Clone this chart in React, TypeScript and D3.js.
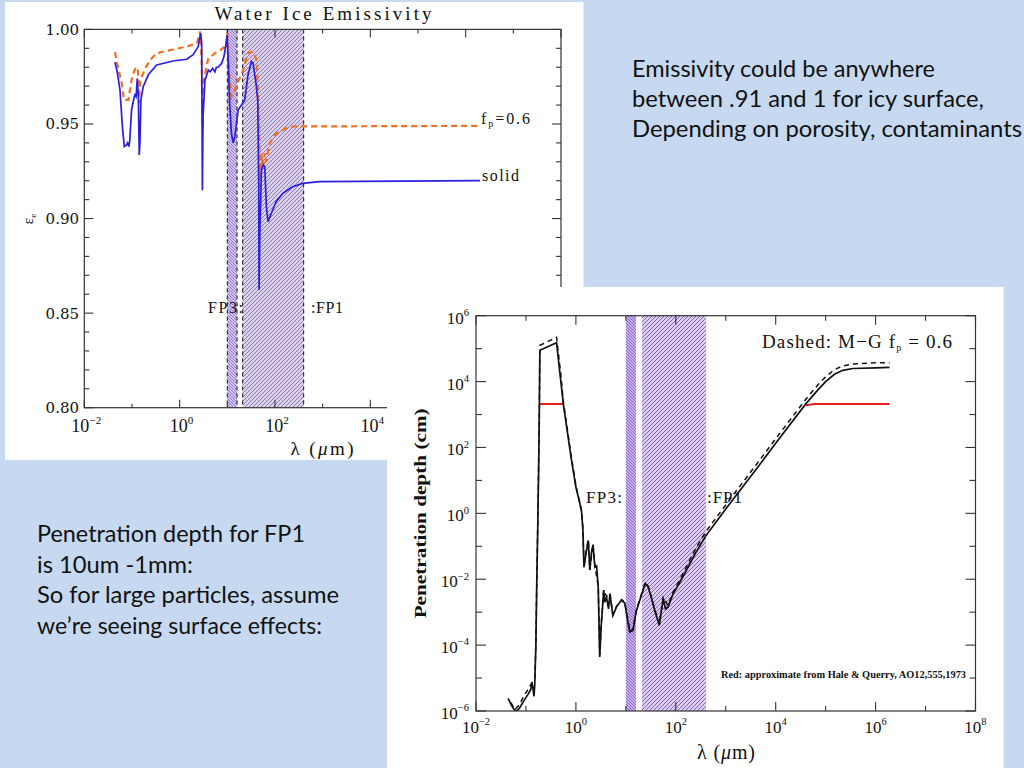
import React from "react";
import * as d3 from "d3";

// ---------------- Slide text ----------------
const noteTopRight = [
  "Emissivity could be anywhere",
  "between .91 and 1 for icy surface,",
  "Depending on porosity, contaminants",
];
const noteTopRightWidths = [303, 352, 390];
const noteBottomLeft = [
  "Penetration depth for FP1",
  "is 10um -1mm:",
  "So for large particles, assume",
  "we\u2019re seeing surface effects:",
];
const noteBottomLeftWidths = [268, 156, 302, 285];

// ---------------- Shared axis data ----------------
const bandEdgesUm: [number, number][] = [
  [10, 16], // FP3
  [21, 400], // FP1
];
const decadeExponents = [-2, -1, 0, 1, 2, 3, 4, 5, 6, 7, 8];
const xLabelExponents = [-2, 0, 2, 4, 6, 8];

// ---------------- Chart 1: emissivity ----------------
const emisTicks = [
  0.8, 0.81, 0.82, 0.83, 0.84, 0.85, 0.86, 0.87, 0.88, 0.89, 0.9, 0.91, 0.92,
  0.93, 0.94, 0.95, 0.96, 0.97, 0.98, 0.99, 1.0,
];
const emisLabelTicks = [0.8, 0.85, 0.9, 0.95, 1.0];

const solidLambda = [
  0.044, 0.049, 0.056, 0.063, 0.069, 0.077, 0.081, 0.086, 0.09, 0.098, 0.11,
  0.115, 0.122, 0.129, 0.136, 0.142, 0.147, 0.154, 0.172, 0.22, 0.33, 0.73, 1.4,
  1.9, 2.45, 2.75, 2.9, 3.0, 3.1, 3.4, 4.0, 4.4, 4.9, 5.5, 5.9, 6.4, 7.6, 8.5,
  9.2, 9.9, 10.5, 11.2, 12.2, 13.3, 14.4, 16.9, 19.8, 23.2, 27.2, 32, 34.7, 40,
  43.5, 45.6, 46.3, 48.4, 52, 56.5, 61, 66, 71.5, 84, 106, 146, 235, 380, 860,
  2.0e6,
];
const solidEps = [
  0.9826, 0.9776, 0.968, 0.9486, 0.938, 0.9389, 0.94, 0.938, 0.9415, 0.9574,
  0.9636, 0.9653, 0.9644, 0.974, 0.9644, 0.9336, 0.94, 0.9627, 0.9697, 0.976,
  0.9812, 0.9833, 0.9842, 0.9865, 0.9909, 0.998, 0.993, 0.915, 0.954, 0.973,
  0.9785, 0.9776, 0.9794, 0.9776, 0.98, 0.98, 0.982, 0.9856, 0.9909, 0.997,
  0.982, 0.961, 0.945, 0.94, 0.9433, 0.9574, 0.96, 0.9627, 0.976, 0.983, 0.982,
  0.9715, 0.9627, 0.9168, 0.8622, 0.8957, 0.9257, 0.9283, 0.9274, 0.9063,
  0.8983, 0.9028, 0.909, 0.9133, 0.9168, 0.9186, 0.9195, 0.92,
];

const porousLambda = [
  0.044, 0.049, 0.061, 0.068, 0.084, 0.098, 0.11, 0.122, 0.133, 0.14, 0.15,
  0.19, 0.24, 0.33, 0.62, 1.4, 2.3, 2.7, 2.9, 3.0, 3.2, 4.0, 5.5, 7.6, 9.7, 10,
  10.7, 12.2, 14.4, 16.9, 21.5, 27, 34.7, 41, 44.5, 46.6, 48, 52, 56, 61, 66,
  72, 78, 106, 200, 380, 2.0e6,
];
const porousEps = [
  0.988, 0.982, 0.9715, 0.9627, 0.9627, 0.9733, 0.9776, 0.98, 0.979, 0.961,
  0.9733, 0.9794, 0.9838, 0.9874, 0.989, 0.9909, 0.9926, 0.9988, 0.9838,
  0.9486, 0.9733, 0.9847, 0.9874, 0.9895, 0.9918, 0.998, 0.98, 0.9644, 0.968,
  0.9724, 0.9785, 0.9874, 0.9882, 0.9838, 0.9627, 0.945, 0.9168, 0.9345, 0.927,
  0.9345, 0.93, 0.936, 0.94, 0.945, 0.9486, 0.9487, 0.949,
];

// ---------------- Chart 2: penetration depth ----------------
const depthExponents = [-6, -5, -4, -3, -2, -1, 0, 1, 2, 3, 4, 5, 6];
const depthLabelExponents = [-6, -4, -2, 0, 2, 4, 6];

const depthLambda = [
  0.044, 0.05, 0.058, 0.066, 0.075, 0.09, 0.11, 0.125, 0.132, 0.138, 0.145,
  0.15, 0.158, 0.165, 0.172, 0.18, 0.185, 0.19, 0.41, 0.56, 0.8, 1.0, 1.2, 1.3,
  1.38, 1.45, 1.6, 1.77, 1.9, 2.05, 2.2, 2.4, 2.6, 2.8, 3.0, 3.2, 3.6, 3.8, 4.1,
  4.5, 4.8, 5.5, 6.5, 7.2, 8.2, 9.5, 11, 12, 13.9, 16, 19, 24.5, 28, 33, 38,
  46.7, 56, 62, 70, 88, 120, 164, 250, 400, 1000, 4000, 10000, 40000, 70000,
  1e5, 1.5e5, 2.2e5, 3.5e5, 1e6, 1.9e6,
];
const depthSolidCm = [
  2.4e-6, 1.6e-6, 1.1e-6, 1.0e-6, 1.26e-6, 2.0e-6, 3.2e-6, 4.5e-6, 7.1e-6,
  5.0e-6, 2.8e-6, 6.3e-6, 1e-4, 1e-2, 0.32, 32, 1000, 8.9e4, 1.5e5, 2.1e3, 50,
  6.3, 2.0, 1.1, 0.32, 0.023, 0.063, 0.15, 0.019, 0.063, 0.11, 0.023, 0.025,
  0.0058, 4.4e-5, 3.5e-4, 4.6e-3, 2.0e-3, 2.9e-3, 1.26e-3, 3.6e-3, 7.9e-4,
  1.45e-3, 1.8e-3, 2.3e-3, 1.9e-3, 5.0e-4, 2.5e-4, 2.8e-4, 1.0e-3, 2.3e-3,
  7.4e-3, 5.8e-3, 2.5e-3, 1.1e-3, 4.0e-4, 2.6e-3, 1.26e-3, 1.45e-3, 3.6e-3,
  7.9e-3, 0.019, 0.063, 0.21, 1.35, 21, 135, 2100, 5600, 1.0e4, 1.66e4, 2.2e4,
  2.5e4, 2.6e4, 2.7e4,
];

const dashedLambda = [
  0.05, 0.06, 0.075, 0.09, 0.11, 0.13, 0.15, 0.158, 0.165, 0.172, 0.18, 0.185,
  0.19, 0.41, 0.5, 0.56, 0.8, 1.0, 1.3, 1.38, 1.45, 1.6, 1.77, 1.9, 2.2, 2.4,
  2.8, 3.0, 3.2, 3.6, 4.1, 4.8, 5.5, 6.5, 8.2, 9.5, 12, 13.9, 16, 19, 24.5, 28,
  38, 46.7, 56, 70, 88, 120, 164, 250, 400, 1000, 4000, 10000, 40000, 70000,
  1e5, 1.5e5, 2.2e5, 3.5e5, 1e6, 1.9e6,
];
const depthDashedCm = [
  1.8e-6, 1.1e-6, 1.6e-6, 2.8e-6, 4.5e-6, 7e-6, 1.0e-5, 1e-4, 1e-2, 0.4, 40,
  1300, 1.26e5, 2.2e5, 1.6e4, 2.5e3, 60, 7, 1.2, 0.35, 0.025, 0.07, 0.16, 0.02,
  0.12, 0.025, 0.006, 5e-5, 3.8e-4, 4.8e-3, 3.0e-3, 3.8e-3, 8.5e-4, 1.5e-3,
  2.4e-3, 2.0e-3, 2.7e-4, 3.0e-4, 1.1e-3, 2.5e-3, 7.8e-3, 6.2e-3, 1.2e-3,
  4.4e-4, 2.8e-3, 1.6e-3, 4.0e-3, 9.5e-3, 0.024, 0.085, 0.28, 1.8, 29, 185,
  2900, 8000, 1.4e4, 2.3e4, 3.0e4, 3.4e4, 3.7e4, 3.7e4,
];

const redLeftLambda = [0.19, 0.56];
const redLeftCm = [2100, 2100];
const redRightLambda = [4.0e4, 6.0e4, 1.9e6];
const redRightCm = [1900, 2100, 2100];

// ---------------- Geometry ----------------
const P1 = { left: 84.3, right: 561, top: 29.4, bottom: 407.7 };
const P2 = { left: 476, right: 975.5, top: 315.7, bottom: 711 };

const x1 = d3.scaleLog().domain([1e-2, 1e8]).range([P1.left, P1.right]);
const y1 = d3.scaleLinear().domain([0.8, 1.0]).range([P1.bottom, P1.top]);
const x2 = d3.scaleLog().domain([1e-2, 1e8]).range([P2.left, P2.right]);
const y2 = d3.scaleLog().domain([1e-6, 1e6]).range([P2.bottom, P2.top]);

const zip = (a: number[], b: number[]) => a.map((v, i) => [v, b[i]] as [number, number]);

const line1 = d3
  .line<[number, number]>()
  .x((d) => x1(d[0]))
  .y((d) => y1(d[1]));
const line2 = d3
  .line<[number, number]>()
  .x((d) => x2(d[0]))
  .y((d) => y2(d[1]));

const SERIF = "'Liberation Serif', 'DejaVu Serif', serif";
const DSERIF = "'DejaVu Serif', 'Liberation Serif', serif";
const SANS = "Lato, 'Open Sans', 'Noto Sans', sans-serif";

function Pow10({ x, y, e, size, anchor }: { x: number; y: number; e: number; size: number; anchor: string }) {
  const txt = e < 0 ? "\u2212" + Math.abs(e) : String(e);
  return (
    <text x={x} y={y} fontFamily={SERIF} fontSize={size} textAnchor={anchor as any} fill="#111">
      10
      <tspan dy={-size * 0.45} fontSize={size * 0.62}>
        {txt}
      </tspan>
    </text>
  );
}

export default function App() {
  const pow = (e: number) => Math.pow(10, e);
  return (
    <svg
      width={1024}
      height={768}
      viewBox="0 0 1024 768"
      style={{ position: "absolute", left: 0, top: 0, display: "block" }}
    >
      <defs>
        <pattern id="c1b1" patternUnits="userSpaceOnUse" width={3} height={3}>
          <rect width={3} height={3} fill="#d2c2f0" />
          <path d="M0,0 L3,3 M-1,2 L1,4 M2,-1 L4,1" stroke="#8a6cc6" strokeWidth={0.85} />
        </pattern>
        <pattern id="c1b2" patternUnits="userSpaceOnUse" width={4} height={4}>
          <rect width={4} height={4} fill="#ddd2ee" />
          <path d="M0,4 L4,0 M-1,1 L1,-1 M3,5 L5,3" stroke="#7e6f9e" strokeWidth={0.9} />
        </pattern>
        <pattern id="c2b1" patternUnits="userSpaceOnUse" width={3} height={3}>
          <rect width={3} height={3} fill="#c8aeee" />
          <path d="M0,0 L3,3 M-1,2 L1,4 M2,-1 L4,1" stroke="#875ec6" strokeWidth={0.9} />
        </pattern>
        <pattern id="c2b2" patternUnits="userSpaceOnUse" width={4} height={4}>
          <rect width={4} height={4} fill="#ddcdf0" />
          <path d="M0,4 L4,0 M-1,1 L1,-1 M3,5 L5,3" stroke="#8060b4" strokeWidth={0.95} />
        </pattern>
        <clipPath id="clip1">
          <rect x={P1.left} y={P1.top} width={P1.right - P1.left} height={P1.bottom - P1.top} />
        </clipPath>
        <clipPath id="clip2">
          <rect x={P2.left} y={P2.top} width={P2.right - P2.left} height={P2.bottom - P2.top} />
        </clipPath>
      </defs>

      {/* slide background */}
      <rect x={0} y={0} width={1024} height={768} fill="#c6d9f0" />

      {/* slide notes */}
      {noteTopRight.map((t, i) => (
        <text
          key={"tr" + i}
          x={632}
          y={77 + i * 30}
          fontFamily={SANS}
          fontSize={23}
          fill="#111"
          textLength={noteTopRightWidths[i]}
          lengthAdjust="spacingAndGlyphs"
        >
          {t}
        </text>
      ))}
      {noteBottomLeft.map((t, i) => (
        <text
          key={"bl" + i}
          x={37}
          y={542 + i * 30.5}
          fontFamily={SANS}
          fontSize={23}
          fill="#111"
          textLength={noteBottomLeftWidths[i]}
          lengthAdjust="spacingAndGlyphs"
        >
          {t}
        </text>
      ))}

      {/* ================= Chart 1 ================= */}
      <rect x={5} y={2} width={578.5} height={458} fill="#ffffff" />
      <text x={323} y={20} fontFamily={SERIF} fontSize={19} textAnchor="middle" textLength={217} lengthAdjust="spacing" fill="#111">
        Water Ice Emissivity
      </text>

      {bandEdgesUm.map(([a, b], i) => (
        <rect
          key={"b1" + i}
          x={x1(a)}
          y={P1.top}
          width={x1(b) - x1(a)}
          height={P1.bottom - P1.top}
          fill={i === 0 ? "url(#c1b1)" : "url(#c1b2)"}
        />
      ))}
      {bandEdgesUm.flat().map((v, i) => (
        <line
          key={"bd" + i}
          x1={x1(v)}
          x2={x1(v)}
          y1={P1.top}
          y2={P1.bottom}
          stroke="#111"
          strokeWidth={1}
          strokeDasharray="4,3"
        />
      ))}

      <text x={208} y={313} fontFamily={SERIF} fontSize={16} fill="#111" textLength={35} lengthAdjust="spacing">
        FP3:
      </text>
      <text x={311} y={313} fontFamily={SERIF} fontSize={16} fill="#111" textLength={32} lengthAdjust="spacing">
        :FP1
      </text>

      <g clipPath="url(#clip1)">
        <path
          d={line1(zip(porousLambda, porousEps)) || ""}
          fill="none"
          stroke="#f07020"
          strokeWidth={2.2}
          strokeDasharray="6,4"
        />
        <path d={line1(zip(solidLambda, solidEps)) || ""} fill="none" stroke="#2a1fe0" strokeWidth={1.7} />
      </g>

      <text x={481} y={124} fontFamily={SERIF} fontSize={16} fill="#111" textLength={49} lengthAdjust="spacing">
        f<tspan dy={3} fontSize={10}>p</tspan>
        <tspan dy={-3}>=0.6</tspan>
      </text>
      <text x={482} y={181} fontFamily={SERIF} fontSize={16} fill="#111" textLength={37} lengthAdjust="spacing">
        solid
      </text>

      {/* chart 1 axes */}
      <rect
        x={P1.left}
        y={P1.top}
        width={P1.right - P1.left}
        height={P1.bottom - P1.top}
        fill="none"
        stroke="#333"
        strokeWidth={1.2}
      />
      {decadeExponents.map((e) => {
        const x = x1(pow(e));
        const len = e % 2 === 0 ? 8 : 4;
        return (
          <g key={"x1t" + e} stroke="#333" strokeWidth={1.1}>
            <line x1={x} x2={x} y1={P1.bottom} y2={P1.bottom - len} />
            <line x1={x} x2={x} y1={P1.top} y2={P1.top + len} />
          </g>
        );
      })}
      {emisTicks.map((t) => {
        const y = y1(t);
        const major = emisLabelTicks.some((m) => Math.abs(m - t) < 1e-6);
        const len = major ? 9 : 5;
        return (
          <g key={"y1t" + t} stroke="#333" strokeWidth={1.1}>
            <line x1={P1.left} x2={P1.left + len} y1={y} y2={y} />
            <line x1={P1.right} x2={P1.right - len} y1={y} y2={y} />
          </g>
        );
      })}
      {emisLabelTicks.map((t) => (
        <text
          key={"y1l" + t}
          x={79}
          y={y1(t) + 5.5}
          fontFamily={DSERIF}
          fontSize={15}
          textAnchor="end"
          fill="#111"
        >
          {t.toFixed(2)}
        </text>
      ))}
      {xLabelExponents.map((e) => (
        <Pow10 key={"x1l" + e} x={x1(pow(e)) + 2} y={432} e={e} size={18} anchor="middle" />
      ))}
      <text x={322} y={455} fontFamily={SERIF} fontSize={19} textAnchor="middle" fill="#111" textLength={63} lengthAdjust="spacing">
        {"\u03BB ("}
        <tspan fontStyle="italic">{"\u03BC"}</tspan>
        {"m)"}
      </text>
      <text
        transform="translate(33,219) rotate(-90)"
        fontFamily={SERIF}
        fontSize={15}
        textAnchor="middle"
        fill="#111"
      >
        {"\u03B5"}
        <tspan dy={3} fontSize={9}>
          e
        </tspan>
      </text>

      {/* ================= Chart 2 ================= */}
      <rect x={387} y={287} width={616.5} height={481} fill="#ffffff" />

      {bandEdgesUm.map(([a, b], i) => (
        <rect
          key={"b2" + i}
          x={x2(a)}
          y={P2.top}
          width={x2(b) - x2(a)}
          height={P2.bottom - P2.top}
          fill={i === 0 ? "url(#c2b1)" : "url(#c2b2)"}
        />
      ))}

      <text x={586} y={503} fontFamily={SERIF} fontSize={17} fill="#111" textLength={36} lengthAdjust="spacing">
        FP3:
      </text>
      <text x={707} y={503} fontFamily={SERIF} fontSize={17} fill="#111" textLength={35} lengthAdjust="spacing">
        :FP1
      </text>

      <g clipPath="url(#clip2)">
        <path d={line2(zip(redLeftLambda, redLeftCm)) || ""} fill="none" stroke="#e0201c" strokeWidth={2} />
        <path d={line2(zip(redRightLambda, redRightCm)) || ""} fill="none" stroke="#e0201c" strokeWidth={2} />
        <path
          d={line2(zip(dashedLambda, depthDashedCm)) || ""}
          fill="none"
          stroke="#111"
          strokeWidth={1.5}
          strokeDasharray="5,4"
        />
        <path d={line2(zip(depthLambda, depthSolidCm)) || ""} fill="none" stroke="#111" strokeWidth={1.7} />
      </g>

      <text x={762} y={348} fontFamily={SERIF} fontSize={19} fill="#111" textLength={190} lengthAdjust="spacing">
        {"Dashed: M\u2212G f"}
        <tspan dy={3} fontSize={10}>
          p
        </tspan>
        <tspan dy={-3}>{" = 0.6"}</tspan>
      </text>
      <text
        x={721}
        y={678}
        fontFamily={SERIF}
        fontSize={9.5}
        fontWeight="bold"
        fill="#111"
        textLength={245}
        lengthAdjust="spacingAndGlyphs"
      >
        Red: approximate from Hale &amp; Querry, AO12,555,1973
      </text>

      {/* chart 2 axes */}
      <rect
        x={P2.left}
        y={P2.top}
        width={P2.right - P2.left}
        height={P2.bottom - P2.top}
        fill="none"
        stroke="#333"
        strokeWidth={1.2}
      />
      {decadeExponents.map((e) => {
        const x = x2(pow(e));
        const len = e % 2 === 0 ? 9 : 5;
        return (
          <g key={"x2t" + e} stroke="#333" strokeWidth={1.1}>
            <line x1={x} x2={x} y1={P2.bottom} y2={P2.bottom - len} />
            <line x1={x} x2={x} y1={P2.top} y2={P2.top + len} />
          </g>
        );
      })}
      {depthExponents.map((e) => {
        const y = y2(pow(e));
        const len = e % 2 === 0 ? 10 : 6;
        return (
          <g key={"y2t" + e} stroke="#333" strokeWidth={1.1}>
            <line x1={P2.left} x2={P2.left + len} y1={y} y2={y} />
            <line x1={P2.right} x2={P2.right - len} y1={y} y2={y} />
          </g>
        );
      })}
      {depthLabelExponents.map((e) => (
        <Pow10 key={"y2l" + e} x={469} y={y2(pow(e)) + 8} e={e} size={17} anchor="end" />
      ))}
      {xLabelExponents.map((e) => (
        <Pow10 key={"x2l" + e} x={x2(pow(e))} y={733} e={e} size={17} anchor="middle" />
      ))}
      <text x={726} y={759} fontFamily={SERIF} fontSize={20} textAnchor="middle" fill="#111" textLength={58} lengthAdjust="spacing">
        {"\u03BB ("}
        <tspan fontStyle="italic">{"\u03BC"}</tspan>
        {"m)"}
      </text>
      <text
        transform={`translate(426,${(P2.top + P2.bottom) / 2}) rotate(-90)`}
        fontFamily={SERIF}
        fontSize={17}
        fontWeight="bold"
        textAnchor="middle"
        fill="#111"
        textLength={210}
        lengthAdjust="spacingAndGlyphs"
      >
        Penetration depth (cm)
      </text>
    </svg>
  );
}
